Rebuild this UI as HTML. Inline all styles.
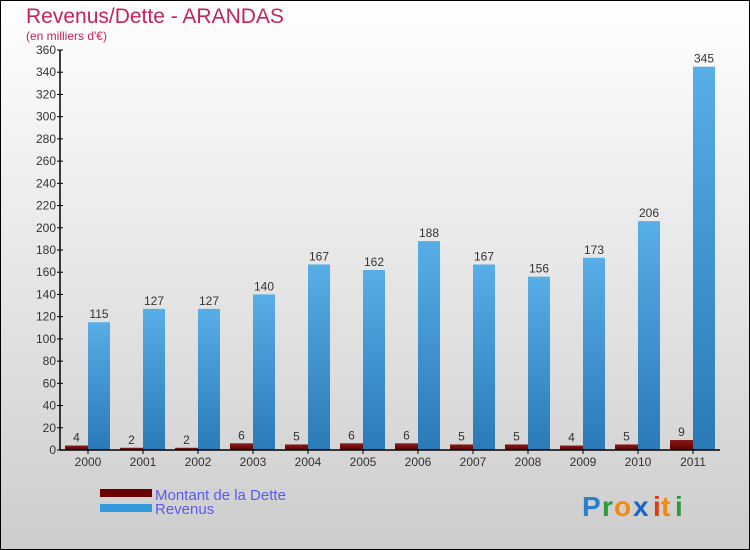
<!DOCTYPE html>
<html><head><meta charset="utf-8"><style>
body{margin:0}
#c{width:750px;height:550px;position:relative;overflow:hidden;font-family:"Liberation Sans",sans-serif}
</style></head><body>
<div id="c">
<svg width="750" height="550" xmlns="http://www.w3.org/2000/svg" id="svg">
<defs>
<linearGradient id="bg" x1="0" y1="0" x2="0" y2="1"><stop offset="0" stop-color="#ffffff"/><stop offset="1" stop-color="#cdcdcd"/></linearGradient>
<linearGradient id="rev" x1="0" y1="0" x2="0" y2="1"><stop offset="0" stop-color="#58aee6"/><stop offset="1" stop-color="#2a7ab8"/></linearGradient>
<linearGradient id="debt" x1="0" y1="0" x2="0" y2="1"><stop offset="0" stop-color="#8a1a1a"/><stop offset="1" stop-color="#5a0000"/></linearGradient>
</defs>
<rect x="0.5" y="0.5" width="749" height="549" fill="url(#bg)" stroke="#000"/>
<text x="26" y="23" font-size="21" fill="#c4245c">Revenus/Dette - ARANDAS</text>
<text x="26" y="40" font-size="12" fill="#c4245c">(en milliers d'€)</text>
<g id="grid"></g>
<g id="bars"></g>
<g id="axes"></g>
<rect x="100" y="489" width="52" height="8" fill="#6a0000"/>
<text x="155" y="500" font-size="15" fill="#5b5bf0">Montant de la Dette</text>
<rect x="100" y="504" width="52" height="8" fill="#3399dd"/>
<text x="155" y="514" font-size="15" fill="#5b5bf0">Revenus</text>
<g font-size="28" font-weight="bold">
<text x="582" y="516" fill="#2a7fd0">P</text><text x="602" y="516" fill="#2a9a3a">r</text><text x="614" y="516" fill="#f08a10">o</text><text x="633" y="516" fill="#1a66c8">x</text><text x="653" y="516" fill="#e03a10">i</text><text x="661" y="516" fill="#f08a10">t</text><text x="675" y="516" fill="#2a9a3a">i</text>
</g>
</svg>
</div>
<script>
const years=["2000","2001","2002","2003","2004","2005","2006","2007","2008","2009","2010","2011"];
const debt=[4,2,2,6,5,6,6,5,5,4,5,9];
const revenus=[115,127,127,140,167,162,188,167,156,173,206,345];
const yTicks=[0,20,40,60,80,100,120,140,160,180,200,220,240,260,280,300,320,340,360];
const NS="http://www.w3.org/2000/svg";
const x0=60,groupW=55,y0=450,yTop=50,yMax=360;
const ys=v=>y0-(v/yMax)*(y0-yTop);
const xs=i=>x0+i*groupW;
function mk(tag,attrs,parent,text){const e=document.createElementNS(NS,tag);for(const k in attrs)e.setAttribute(k,attrs[k]);if(text!==undefined)e.textContent=text;parent.appendChild(e);return e;}
const bars=document.getElementById('bars'),axes=document.getElementById('axes');
years.forEach((y,i)=>{
 const cx=xs(i)+28;
 const d=mk('rect',{x:cx-23,y:ys(debt[i]),width:23,height:y0-ys(debt[i]),fill:'url(#debt)'},bars);
 
 
 const r=mk('rect',{x:cx,y:ys(revenus[i]),width:22,height:y0-ys(revenus[i]),fill:'url(#rev)'},bars);
 
 
 const dl=mk('text',{x:cx-11.5,y:ys(debt[i])-4,'font-size':12,fill:'#333','text-anchor':'middle'},bars,debt[i]);
 
 
 const rl=mk('text',{x:cx+11,y:ys(revenus[i])-4,'font-size':12,fill:'#333','text-anchor':'middle'},bars,revenus[i]);
 
 
 mk('line',{x1:cx,y1:y0,x2:cx,y2:y0+4,stroke:'#000'},axes);
 const xl=mk('text',{x:cx,y:y0+16,'font-size':12,fill:'#333','text-anchor':'middle'},axes,y);
 
 
});
yTicks.forEach(t=>{
 mk('line',{x1:x0-3,y1:ys(t),x2:x0+3,y2:ys(t),stroke:'#000'},axes);
 const l=mk('text',{x:x0-4,y:ys(t)+4,'font-size':12,fill:'#333','text-anchor':'end'},axes,t);
 
 
});
const ya=mk('line',{x1:x0,y1:yTop,x2:x0,y2:y0,stroke:'#000','stroke-width':1.5},axes);


const xa=mk('line',{x1:x0,y1:y0,x2:720,y2:y0,stroke:'#000','stroke-width':1.5},axes);


</script>
</body></html>
